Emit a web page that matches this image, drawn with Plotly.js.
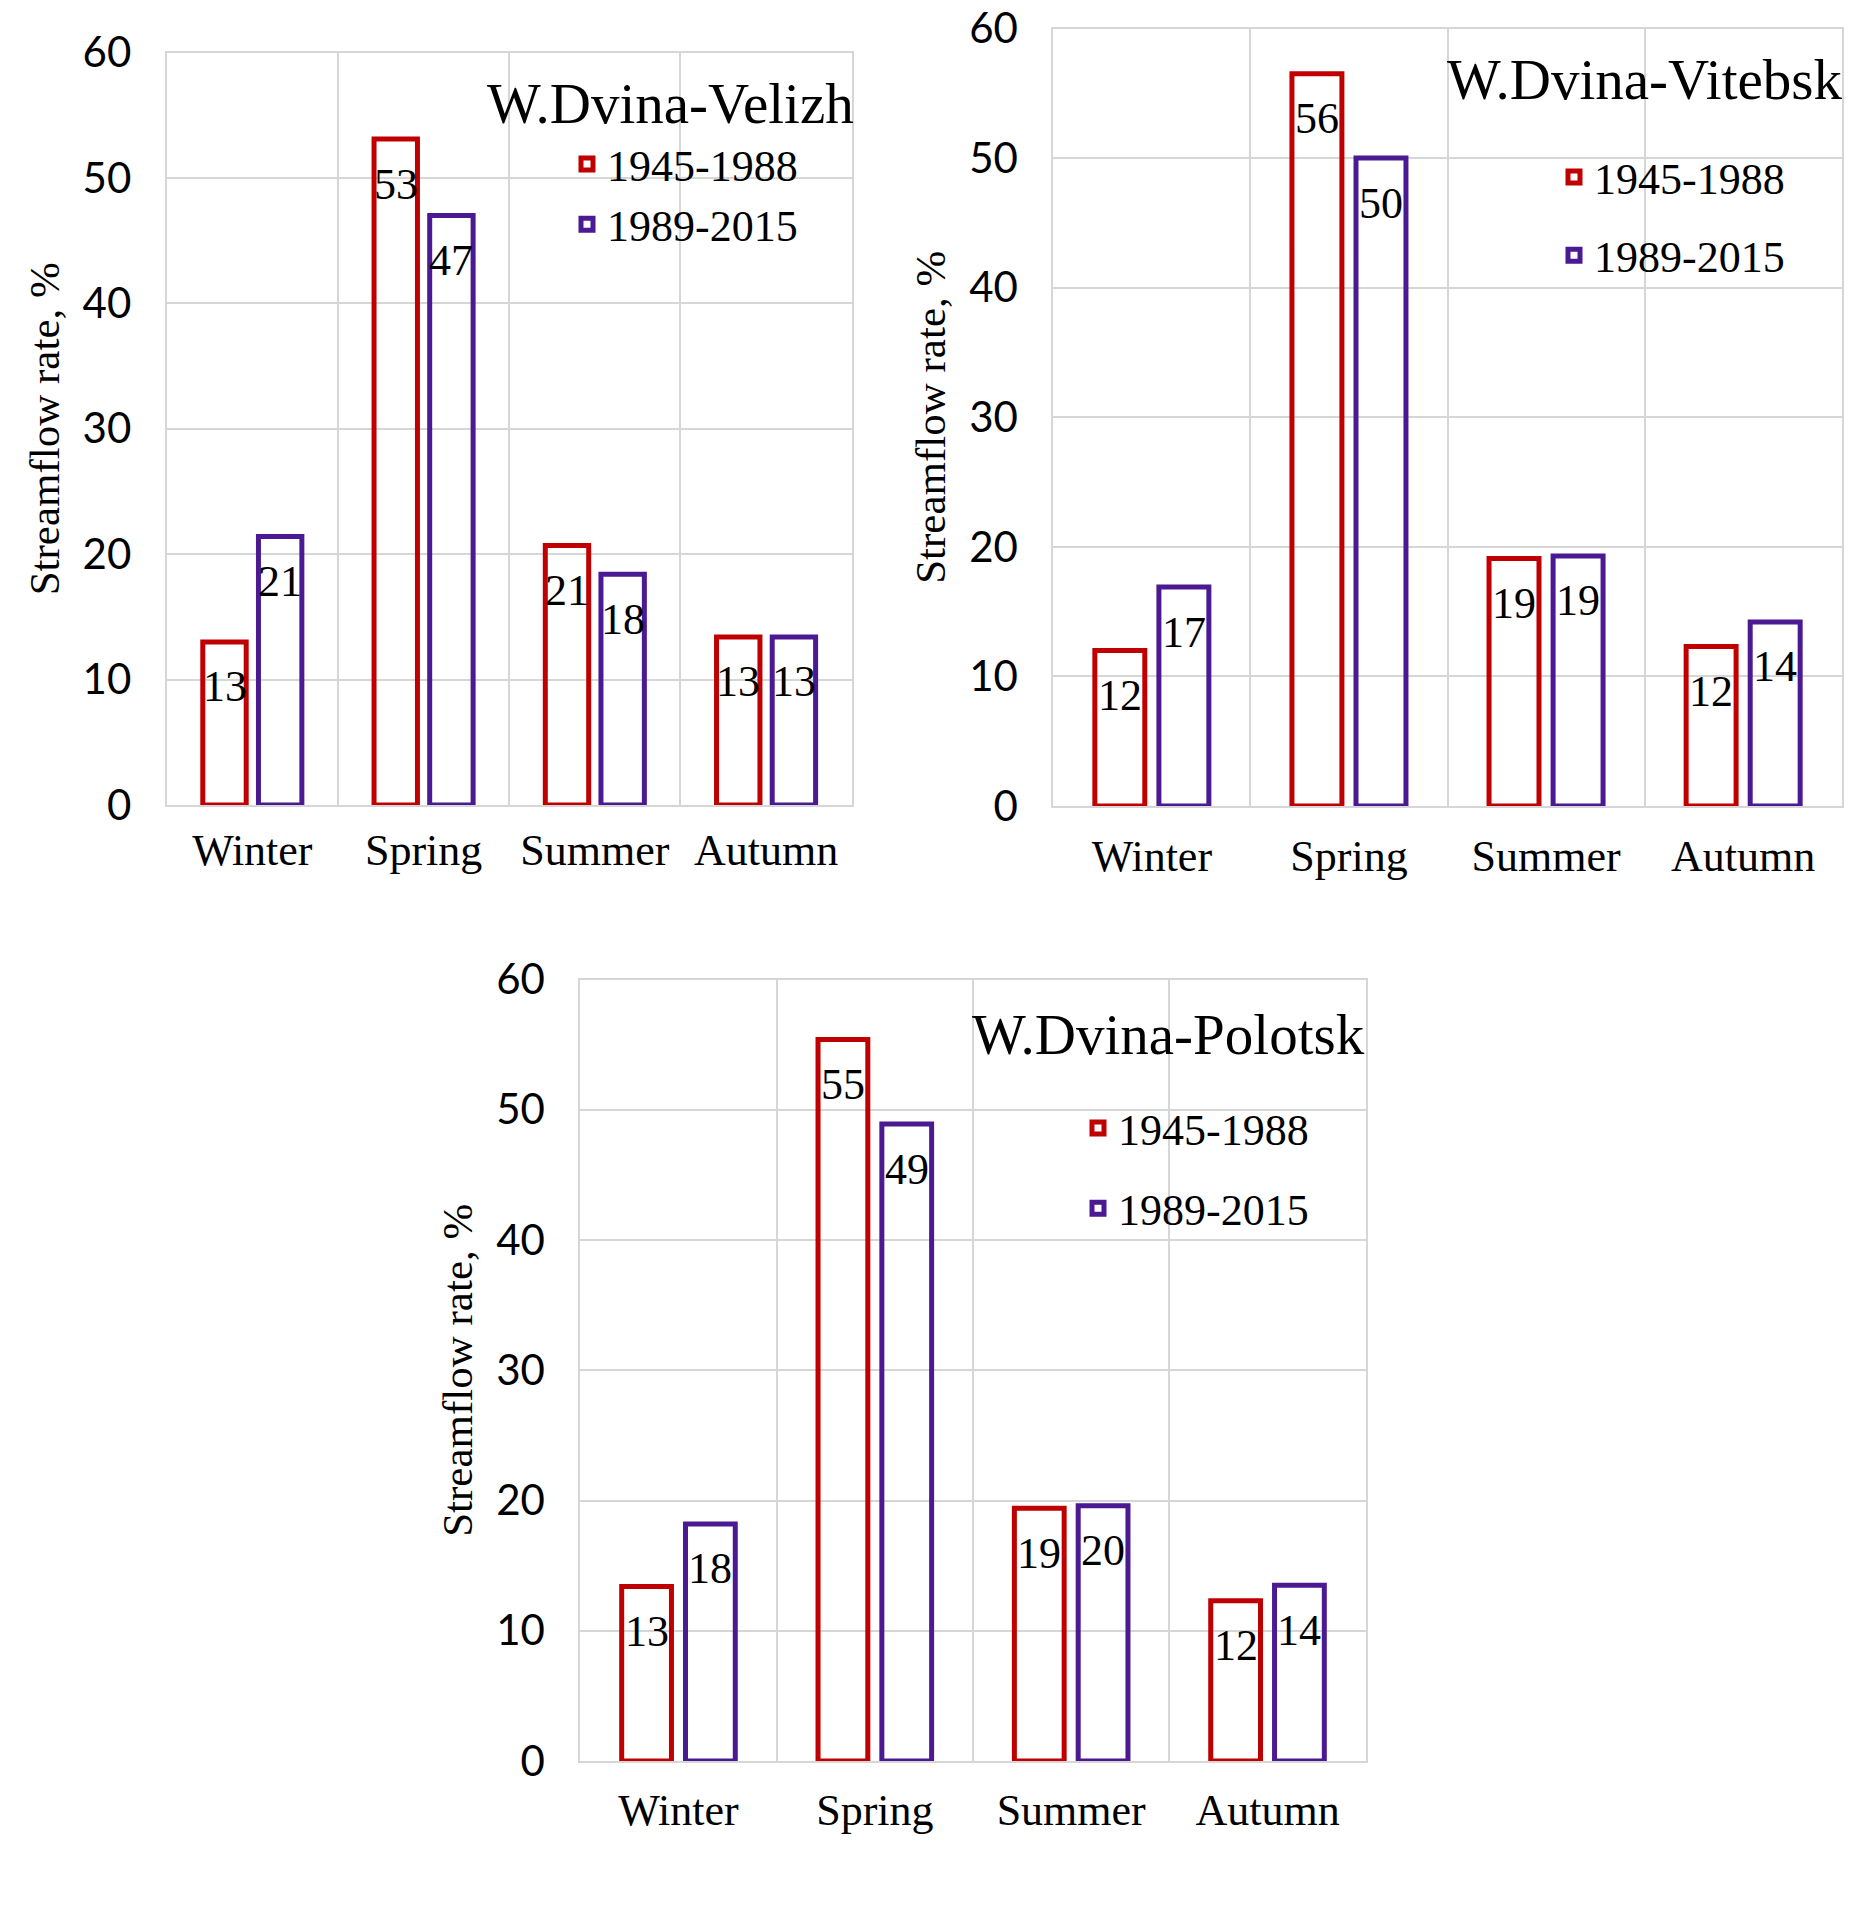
<!DOCTYPE html>
<html>
<head>
<meta charset="utf-8">
<script src="https://cdn.plot.ly/plotly-3.0.1.min.js"></script>
<style>html,body{margin:0;padding:0;background:#fff;}#chart{width:1850px;height:1908px;}</style>
</head>
<body>
<div id="chart"></div>
<script>
// ---- data ----
const seasons = ["Winter", "Spring", "Summer", "Autumn"];
const periodA = "1945-1988";
const periodB = "1989-2015";

const stationNames = ["W.Dvina-Velizh", "W.Dvina-Vitebsk", "W.Dvina-Polotsk"];

const velizhA = [13.0, 53.1, 20.7, 13.4];
const velizhB = [21.4, 47.0, 18.4, 13.4];
const velizhLabelsA = ["13", "53", "21", "13"];
const velizhLabelsB = ["21", "47", "18", "13"];

const vitebskA = [12.0, 56.5, 19.1, 12.3];
const vitebskB = [16.9, 50.0, 19.3, 14.2];
const vitebskLabelsA = ["12", "56", "19", "12"];
const vitebskLabelsB = ["17", "50", "19", "14"];

const polotskA = [13.4, 55.4, 19.4, 12.3];
const polotskB = [18.2, 48.9, 19.6, 13.5];
const polotskLabelsA = ["13", "55", "19", "12"];
const polotskLabelsB = ["18", "49", "20", "14"];

const yTicks = [0, 10, 20, 30, 40, 50, 60];
const yTitle = "Streamflow rate, %";

// ---- styles ----
const RED = "#C00000";
const PURPLE = "#4B1A92";
const SERIF = "Liberation Serif, Times New Roman, serif";
const SANS = "Lato, Carlito, sans-serif";
const GRID = "#D6D6D6";
const BARGAP = 0.35;
const BARGROUPGAP = 0.22;

const series = [
  {A: velizhA, B: velizhB, tA: velizhLabelsA, tB: velizhLabelsB},
  {A: vitebskA, B: vitebskB, tA: vitebskLabelsA, tB: vitebskLabelsB},
  {A: polotskA, B: polotskB, tA: polotskLabelsA, tB: polotskLabelsB}
];
const legendNames = ["legend", "legend2", "legend3"];

function sfx(k) { return k === 0 ? "" : String(k + 1); }

function barTrace(vals, name, color, k) {
  return {
    type: "bar",
    x: seasons, y: vals, name: name,
    marker: {color: "rgba(255,255,255,0)", line: {color: color, width: 5}},
    xaxis: "x" + sfx(k), yaxis: "y" + sfx(k),
    legend: legendNames[k],
    legendgroup: name + k,
    hoverinfo: "x+y+name"
  };
}

const data = [];
const labelAnns = [];
const half = (1 - BARGAP) / 4; // centre offset of each bar within its group
series.forEach((s, k) => {
  data.push(barTrace(s.A, periodA, RED, k));
  data.push(barTrace(s.B, periodB, PURPLE, k));
  [[s.A, s.tA, -half], [s.B, s.tB, half]].forEach(([vals, labels, off]) => {
    seasons.forEach((season, i) => {
      labelAnns.push({
        xref: "x" + sfx(k), yref: "y" + sfx(k),
        x: i + off, y: vals[i], yshift: -45,
        xanchor: "center", yanchor: "middle",
        text: labels[i], showarrow: false,
        font: {family: SERIF, size: 44, color: "#000"}
      });
    });
  });
});

function xAxis(domain, anchor, standoff) {
  return {
    domain: domain, anchor: anchor, type: "category",
    range: [-0.5, 3.5],
    tickson: "boundaries", ticks: "", showgrid: true,
    gridcolor: GRID, gridwidth: 2,
    showline: true, mirror: true, linecolor: GRID, linewidth: 2,
    zeroline: false,
    ticklabelstandoff: standoff,
    tickfont: {family: SERIF, size: 44, color: "#000"},
    fixedrange: true
  };
}
function yAxis(domain, anchor) {
  return {
    domain: domain, anchor: anchor,
    range: [0, 60], tickvals: yTicks, ticktext: yTicks.map(String),
    ticks: "", showgrid: true, gridcolor: GRID, gridwidth: 2,
    zeroline: false,
    showline: true, mirror: true, linecolor: GRID, linewidth: 2,
    ticklabelstandoff: 25,
    tickfont: {family: SANS, size: 42, color: "#000"},
    title: {text: yTitle, font: {family: SERIF, size: 43, color: "#000"}, standoff: 10},
    fixedrange: true
  };
}

const W = 1850, H = 1908;
function px(x) { return x / W; }
function py(y) { return 1 - y / H; }

function legendAt(x, y, gap) {
  return {x: px(x), y: py(y), xanchor: "left", yanchor: "top", bgcolor: "rgba(0,0,0,0)",
          font: {family: SERIF, size: 44, color: "#000"}, tracegroupgap: gap, traceorder: "grouped"};
}

const titleAnns = [
  {text: stationNames[0], xref: "paper", yref: "paper", x: px(856), y: py(104), xanchor: "right", yanchor: "middle",
   showarrow: false, font: {family: SERIF, size: 57, color: "#000"}},
  {text: stationNames[1], xref: "paper", yref: "paper", x: px(1844), y: py(80), xanchor: "right", yanchor: "middle",
   showarrow: false, font: {family: SERIF, size: 57, color: "#000"}},
  {text: stationNames[2], xref: "paper", yref: "paper", x: px(1367), y: py(1034), xanchor: "right", yanchor: "middle",
   showarrow: false, font: {family: SERIF, size: 57, color: "#000"}}
];

const layout = {
  width: W, height: H,
  margin: {l: 0, r: 0, t: 0, b: 0, pad: 0},
  paper_bgcolor: "#fff", plot_bgcolor: "#fff",
  barmode: "group", bargap: BARGAP, bargroupgap: BARGROUPGAP,
  showlegend: true,
  font: {family: SERIF, color: "#000"},
  xaxis:  xAxis([px(166.7), px(851.7)], "y", 5),
  yaxis:  yAxis([py(805), py(52.5)], "x"),
  xaxis2: xAxis([px(1053.3), px(1841.7)], "y2", 10),
  yaxis2: yAxis([py(806), py(28.5)], "x2"),
  xaxis3: xAxis([px(580.3), px(1365.7)], "y3", 9),
  yaxis3: yAxis([py(1761), py(979.5)], "x3"),
  legend:  legendAt(567, 129, 0),
  legend2: legendAt(1554, 142, 18),
  legend3: legendAt(1078, 1093, 20),
  annotations: titleAnns.concat(labelAnns)
};

Plotly.newPlot("chart", data, layout, {displayModeBar: false});
</script>
</body>
</html>
